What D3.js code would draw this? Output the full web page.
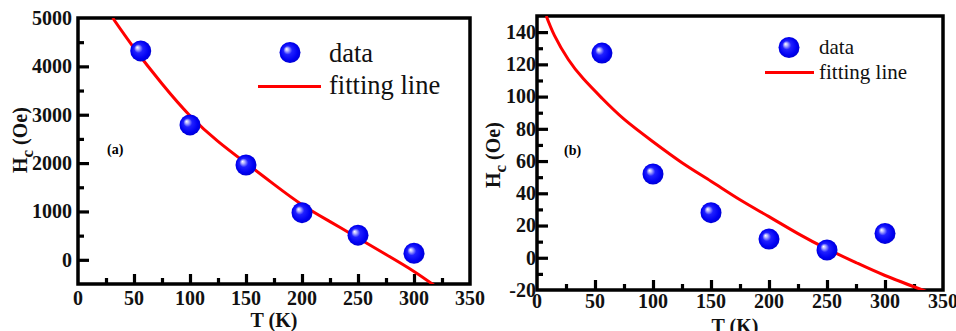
<!DOCTYPE html>
<html>
<head>
<meta charset="utf-8">
<script src="https://cdn.jsdelivr.net/npm/d3@7"></script>
<style>
  body { margin: 0; background: #fff; }
  svg text { font-family: 'Liberation Serif', 'Times New Roman', serif; }
  .tick-label { font-weight: bold; font-size: 20px; fill: #111; }
  .axis-title { font-weight: bold; font-size: 20px; fill: #111; }
</style>
</head>
<body>
<svg id="chart" width="956" height="331"></svg>
<script>
// ---- data ----
// panel (a)
var tempA = [56, 100, 150, 200, 250, 300];
var hcA = [4320, 2790, 1960, 975, 510, 135];
var fitTempA = [31, 50, 75, 100, 125, 150, 175, 200, 225, 250, 275, 300, 320];
var fitHcA = [5000, 4380, 3640, 2980, 2450, 2000, 1560, 1140, 790, 450, 110, -240, -560];

// panel (b)
var tempB = [56, 100, 150, 200, 250, 300];
var hcB = [127, 52, 28, 11.6, 4.8, 15.1];
var fitTempB = [8, 15, 27, 40, 56, 75, 100, 125, 150, 175, 200, 225, 250, 275, 300, 336];
var fitHcB = [150, 138, 123, 111, 99, 86, 72, 59, 47.5, 36, 25.5, 15, 5.5, -3, -11, -21];

// ticks
var xMajor = [0, 50, 100, 150, 200, 250, 300, 350];
var xMinor = [25, 75, 125, 175, 225, 275, 325];
var yMajorA = [0, 1000, 2000, 3000, 4000, 5000];
var yMinorA = [500, 1500, 2500, 3500, 4500];
var yMajorB = [-20, 0, 20, 40, 60, 80, 100, 120, 140];
var yMinorB = [-10, 10, 30, 50, 70, 90, 110, 130];

var legendLabels = ['data', 'fitting line'];

var svg = d3.select('#chart');

// shaded sphere for the markers
var grad = svg.append('defs').append('radialGradient')
    .attr('id', 'ball')
    .attr('cx', '50%').attr('cy', '50%').attr('r', '55%')
    .attr('fx', '33%').attr('fy', '33%');
grad.append('stop').attr('offset', '0%').attr('stop-color', '#ffffff');
grad.append('stop').attr('offset', '14%').attr('stop-color', '#b8b8ff');
grad.append('stop').attr('offset', '38%').attr('stop-color', '#2020ff');
grad.append('stop').attr('offset', '75%').attr('stop-color', '#0000f2');
grad.append('stop').attr('offset', '100%').attr('stop-color', '#0000c8');

function drawPanel(p) {
    var x = d3.scaleLinear().domain([0, 350]).range([p.left, p.right]);
    var y = d3.scaleLinear().domain(p.yDomain).range([p.bottom, p.top]);

    var g = svg.append('g');

    // clip for the fitted curve
    g.append('clipPath').attr('id', 'clip' + p.id)
      .append('rect')
        .attr('x', p.left).attr('y', p.top)
        .attr('width', p.right - p.left).attr('height', p.bottom - p.top);

    // inward ticks on the bottom axis
    g.append('g').attr('transform', 'translate(0,' + p.bottom + ')')
        .call(d3.axisTop(x).tickValues(xMajor.slice(1, -1)).tickSize(10).tickFormat(''));
    g.append('g').attr('transform', 'translate(0,' + p.bottom + ')')
        .call(d3.axisTop(x).tickValues(xMinor).tickSize(6).tickFormat(''));

    // inward ticks on the left axis
    g.append('g').attr('transform', 'translate(' + p.left + ',0)')
        .call(d3.axisRight(y).tickValues(p.yMajor.filter(function(v) { return y(v) > p.top + 2 && y(v) < p.bottom - 2; })).tickSize(11).tickFormat(''));
    g.append('g').attr('transform', 'translate(' + p.left + ',0)')
        .call(d3.axisRight(y).tickValues(p.yMinor).tickSize(6).tickFormat(''));

    g.selectAll('.domain').remove();
    g.selectAll('.tick line').attr('stroke', '#000').attr('stroke-width', 3.2);

    // tick labels
    g.selectAll('.xlab').data(xMajor).enter().append('text')
        .attr('class', 'tick-label')
        .attr('x', function(d) { return x(d); })
        .attr('y', p.bottom + p.xLabelGap)
        .attr('text-anchor', 'middle')
        .text(function(d) { return d; });
    g.selectAll('.ylab').data(p.yMajor).enter().append('text')
        .attr('class', 'tick-label')
        .attr('x', p.left - p.yLabelGap)
        .attr('y', function(d) { return y(d); })
        .attr('dy', '0.34em')
        .attr('text-anchor', 'end')
        .text(function(d) { return d; });

    // frame
    g.append('rect')
        .attr('x', p.left).attr('y', p.top)
        .attr('width', p.right - p.left).attr('height', p.bottom - p.top)
        .attr('fill', 'none').attr('stroke', '#000').attr('stroke-width', 3.5);

    // fitted curve
    var fitPts = p.fitT.map(function(t, i) { return [t, p.fitH[i]]; });
    var line = d3.line()
        .x(function(d) { return x(d[0]); })
        .y(function(d) { return y(d[1]); })
        .curve(d3.curveNatural);
    g.append('path')
        .attr('clip-path', 'url(#clip' + p.id + ')')
        .attr('d', line(fitPts))
        .attr('fill', 'none').attr('stroke', '#ff0000').attr('stroke-width', 3);

    // data markers
    var pts = p.temp.map(function(t, i) { return [t, p.hc[i]]; });
    g.selectAll('.ball').data(pts).enter().append('circle')
        .attr('cx', function(d) { return x(d[0]); })
        .attr('cy', function(d) { return y(d[1]); })
        .attr('r', 10.5)
        .attr('fill', 'url(#ball)');

    // panel letter
    g.append('text')
        .attr('x', p.tag[0]).attr('y', p.tag[1])
        .attr('font-weight', 'bold').attr('font-size', 14)
        .text(p.tagText);

    // legend
    var lg = p.legend;
    g.append('circle').attr('cx', lg.mx).attr('cy', lg.my).attr('r', 10.5).attr('fill', 'url(#ball)');
    g.append('line')
        .attr('x1', lg.lx1).attr('x2', lg.lx2).attr('y1', lg.ly).attr('y2', lg.ly)
        .attr('stroke', '#ff0000').attr('stroke-width', 3.2);
    g.append('text').attr('x', lg.tx).attr('y', lg.t1y)
        .attr('font-size', lg.size).attr('fill', '#111').text(legendLabels[0]);
    g.append('text').attr('x', lg.tx).attr('y', lg.t2y)
        .attr('font-size', lg.size).attr('fill', '#111').text(legendLabels[1]);

    // axis titles
    g.append('text').attr('class', 'axis-title')
        .attr('x', (p.left + p.right) / 2 + p.xTitleShift).attr('y', p.xTitleY)
        .attr('text-anchor', 'middle')
        .text('T (K)');
    var yt = g.append('text').attr('class', 'axis-title')
        .attr('transform', 'translate(' + p.yTitle[0] + ',' + p.yTitle[1] + ') rotate(-90)');
    yt.append('tspan').text('H');
    yt.append('tspan').attr('dy', 6).attr('font-size', 17).text('c');
    yt.append('tspan').attr('dy', -6).text(' (Oe)');
}

drawPanel({
    id: 'a', left: 78, right: 470, top: 18, bottom: 284,
    yDomain: [-500, 5000], yMajor: yMajorA, yMinor: yMinorA,
    xLabelGap: 21, yLabelGap: 6, xTitleShift: 0, xTitleY: 327,
    temp: tempA, hc: hcA, fitT: fitTempA, fitH: fitHcA,
    tag: [107, 154], tagText: '(a)',
    yTitle: [27, 173],
    legend: {mx: 290, my: 52.5, lx1: 258, lx2: 321, ly: 86.5, tx: 329, t1y: 62, t2y: 94, size: 26.5}
});

drawPanel({
    id: 'b', left: 537, right: 943, top: 16, bottom: 290,
    yDomain: [-20, 150], yMajor: yMajorB, yMinor: yMinorB,
    xLabelGap: 18, yLabelGap: 1, xTitleShift: -5, xTitleY: 333,
    temp: tempB, hc: hcB, fitT: fitTempB, fitH: fitHcB,
    tag: [564, 155], tagText: '(b)',
    yTitle: [500, 188],
    legend: {mx: 789, my: 47.5, lx1: 765, lx2: 814, ly: 72.5, tx: 819, t1y: 54, t2y: 79, size: 21}
});
</script>
</body>
</html>
